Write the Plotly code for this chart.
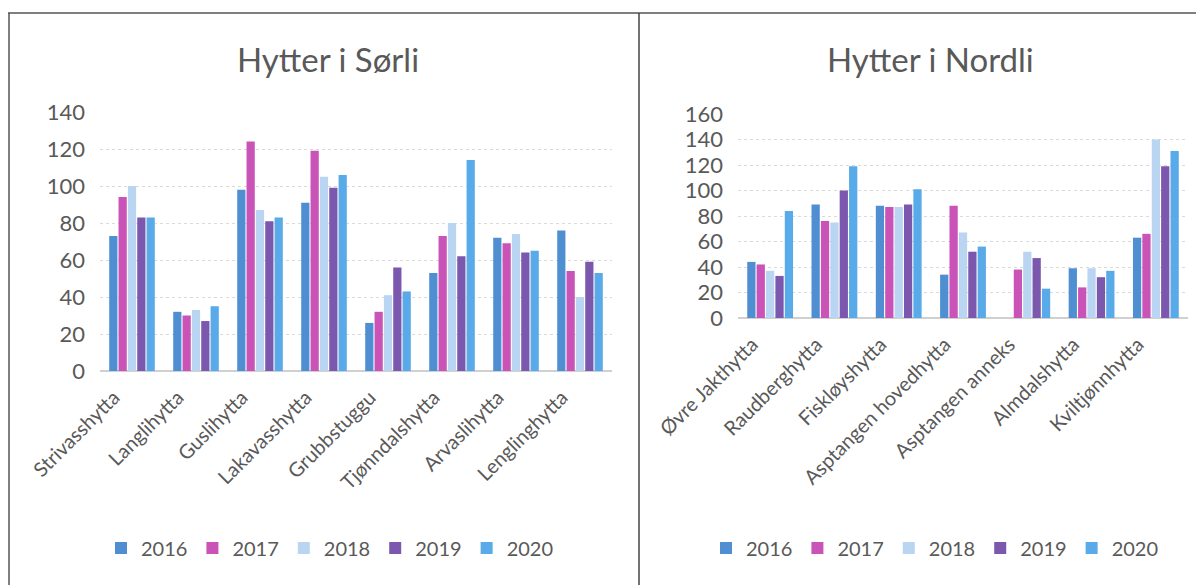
import plotly.graph_objects as go

years = ["2016", "2017", "2018", "2019", "2020"]
colors = ["#4f8fd1", "#c953b6", "#b9d5f2", "#7b57ad", "#58aae8"]

sorli_huts = ["Strivasshytta", "Langlihytta", "Guslihytta", "Lakavasshytta",
              "Grubbstuggu", "Tjønndalshytta", "Arvaslihytta", "Lenglinghytta"]
sorli_2016 = [73, 32, 98, 91, 26, 53, 72, 76]
sorli_2017 = [94, 30, 124, 119, 32, 73, 69, 54]
sorli_2018 = [100, 33, 87, 105, 41, 80, 74, 40]
sorli_2019 = [83, 27, 81, 99, 56, 62, 64, 59]
sorli_2020 = [83, 35, 83, 106, 43, 114, 65, 53]

nordli_huts = ["Øvre Jakthytta", "Raudberghytta", "Fiskløyshytta", "Asptangen hovedhytta",
               "Asptangen anneks", "Almdalshytta", "Kviltjønnhytta"]
nordli_2016 = [44, 89, 88, 34, 0, 39, 63]
nordli_2017 = [42, 76, 87, 88, 38, 24, 66]
nordli_2018 = [37, 75, 87, 67, 52, 39, 140]
nordli_2019 = [33, 100, 89, 52, 47, 32, 119]
nordli_2020 = [84, 119, 101, 56, 23, 37, 131]

sorli = [sorli_2016, sorli_2017, sorli_2018, sorli_2019, sorli_2020]
nordli = [nordli_2016, nordli_2017, nordli_2018, nordli_2019, nordli_2020]

# page body has an 8px margin; figure is sized to fill the rest of the window
OFF = 8
W, H = 1204 - OFF, 585 - OFF
def px(x): return (x - OFF) / W
def py(y): return 1 - (y - OFF) / H

FONT = "Lato, Noto Sans, sans-serif"
TXT = "#595959"

fig = go.Figure()
for i, y in enumerate(years):
    fig.add_trace(go.Bar(x=sorli_huts, y=sorli[i], name=y, marker_color=colors[i],
                         marker_line_width=0, xaxis="x", yaxis="y", legend="legend"))
for i, y in enumerate(years):
    fig.add_trace(go.Bar(x=nordli_huts, y=nordli[i], name=y, marker_color=colors[i],
                         marker_line_width=0, xaxis="x2", yaxis="y2", legend="legend2"))

xcommon = dict(showline=False, ticks="", automargin=False, showgrid=False, zeroline=False,
               tickangle=-45, ticklabelshift=-18, ticklabelstandoff=10,
               tickfont=dict(family=FONT, size=20, color=TXT))
ycommon = dict(showline=False, ticks="", automargin=False, dtick=20, ticklabelstandoff=14,
               gridcolor="#dadada", griddash="dot", zeroline=True, zerolinecolor="#d0d0d0",
               tickfont=dict(family=FONT, size=22, color=TXT))
legcommon = dict(orientation="h", y=py(548), yanchor="middle",
                 font=dict(family=FONT, size=20, color=TXT), itemwidth=30,
                 traceorder="normal", bgcolor="rgba(0,0,0,0)")

fig.update_layout(
    width=W, height=H,
    margin=dict(l=0, r=0, t=0, b=0, pad=0, autoexpand=False),
    paper_bgcolor="white", plot_bgcolor="white",
    barmode="group", bargap=0.27, bargroupgap=0.12,
    font=dict(family=FONT, color=TXT),
    xaxis=dict(domain=[px(100), px(612)], anchor="y", **xcommon),
    yaxis=dict(domain=[py(371), py(112)], anchor="x", range=[0, 140], **ycommon),
    xaxis2=dict(domain=[px(738), px(1188)], anchor="y2", **xcommon),
    yaxis2=dict(domain=[py(318), py(114)], anchor="x2", range=[0, 160], **ycommon),
    legend=dict(x=px(330), xanchor="center", **legcommon),
    legend2=dict(x=px(935), xanchor="center", **legcommon),
    annotations=[
        dict(text="Hytter i Sørli", x=px(328), y=py(59), xref="paper", yref="paper",
             xanchor="center", yanchor="middle",
             showarrow=False, font=dict(family=FONT, size=33, color=TXT)),
        dict(text="Hytter i Nordli", x=px(930), y=py(59), xref="paper", yref="paper",
             xanchor="center", yanchor="middle",
             showarrow=False, font=dict(family=FONT, size=33, color=TXT)),
    ],
    shapes=[
        dict(type="line", xref="paper", yref="paper", x0=px(8), x1=1, y0=py(13), y1=py(13),
             line=dict(color="#555555", width=1.5)),
        dict(type="line", xref="paper", yref="paper", x0=px(9), x1=px(9), y0=py(13), y1=0,
             line=dict(color="#555555", width=1.5)),
        dict(type="line", xref="paper", yref="paper", x0=px(639), x1=px(639), y0=py(13), y1=0,
             line=dict(color="#444444", width=1.5)),
    ],
)

fig.write_html("out.html")
